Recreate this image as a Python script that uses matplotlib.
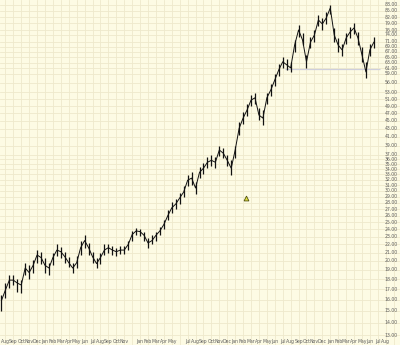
import numpy as np
import matplotlib
matplotlib.use('Agg')
import matplotlib.pyplot as plt

# Semi-monthly samples, first one mid-July of year 0
closes = [15.9, 16.9, 17.9, 17.9, 17.6, 17.4, 19.2, 18.7, 19.5, 20.7, 20.4, 19.5, 19.2, 20.4,
          21.3, 21.1, 20.5, 19.8, 19.2, 19.8, 21.6, 22.5, 21.6, 20.5, 19.7, 20.4,
          21.3, 21.6, 21.3, 21.1, 21.3, 21.3, 22.0, 23.3, 23.8, 23.7, 23.2, 22.2, 22.5, 23.2,
          23.8, 24.7, 26.0, 27.2, 27.8, 28.8, 29.8, 31.9, 32.3, 30.5, 33.4, 34.2, 35.4, 35.8,
          35.4, 38.0, 37.3, 35.8, 34.2, 38.0, 43.1, 45.7, 47.9, 50.7, 51.4, 46.5, 45.7, 51.4,
          53.8, 57.0, 60.4, 63.3, 62.2, 61.1, 69.7, 76.1, 71.8, 63.3, 70.9, 73.9, 80.6, 78.8,
          81.6, 86.4, 73.9, 69.7, 67.8, 72.6, 75.2, 77.0, 72.6, 65.9, 59.7, 67.8, 70.9]
highs = [16.4, 17.6, 18.4, 18.4, 18.0, 17.9, 19.8, 19.5, 20.1, 21.3, 21.1, 20.4, 19.8, 21.0,
         22.0, 21.7, 21.1, 20.5, 19.8, 20.6, 22.5, 23.2, 22.2, 21.1, 20.4, 21.0,
         22.0, 22.1, 21.8, 21.6, 21.8, 21.8, 22.4, 23.8, 24.2, 24.0, 23.7, 22.8, 23.2, 23.7,
         24.3, 25.4, 26.8, 28.1, 28.6, 29.6, 30.8, 32.8, 33.4, 31.5, 34.4, 35.2, 36.4, 36.9,
         36.4, 39.0, 38.4, 36.9, 35.8, 39.0, 44.7, 47.3, 49.6, 52.3, 52.9, 48.4, 47.9, 52.9,
         55.7, 59.0, 62.5, 65.1, 64.4, 63.3, 71.8, 78.3, 74.8, 65.9, 73.0, 76.1, 83.0, 81.6,
         84.4, 88.0, 77.0, 72.6, 70.1, 74.8, 77.4, 79.2, 75.2, 68.9, 63.3, 70.1, 73.0]
lows = [15.0, 16.1, 17.1, 17.4, 16.7, 16.6, 18.4, 18.0, 18.7, 19.8, 19.7, 18.7, 18.4, 19.5,
        20.6, 20.4, 19.8, 19.3, 18.7, 19.2, 20.7, 21.6, 20.7, 19.8, 19.2, 19.7,
        20.7, 21.0, 20.7, 20.6, 20.8, 20.8, 21.3, 22.5, 23.2, 23.1, 22.4, 21.6, 22.0, 22.4,
        23.2, 24.0, 25.3, 26.4, 27.0, 27.8, 29.0, 30.8, 31.0, 29.5, 32.3, 33.0, 34.2, 34.6,
        34.2, 36.7, 36.2, 34.6, 32.8, 36.2, 41.4, 44.1, 46.2, 49.0, 49.6, 45.2, 43.9, 49.6,
        52.0, 55.1, 58.3, 61.1, 60.4, 59.7, 67.0, 73.0, 69.7, 61.1, 68.5, 70.9, 77.9, 76.1,
        78.8, 83.5, 70.9, 67.0, 65.5, 70.1, 72.6, 74.3, 69.7, 63.3, 57.7, 65.5, 68.5]

support_price = 60.6
support_span = (35.3, 47.3)   # months
marker_month = 30.4
marker_price = 28.8

price_labels = [13, 14, 15, 16, 17, 18, 19, 20, 21, 22, 23, 24, 25, 26, 27, 28, 29, 30,
                31, 32, 33, 34, 35, 36, 37, 39, 41, 43, 45, 47, 49, 51, 53, 56, 59, 61,
                63, 65, 67, 69, 71, 74, 76, 79, 82, 85, 88]

month_names = ['Aug', 'Sep', 'Oct', 'Nov', 'Dec', 'Jan', 'Feb', 'Mar', 'Apr', 'May', 'Jun', 'Jul']
month_labels = [month_names[i % 12] for i in range(49)]
month_labels[16] = ''   # Dec of year 1 not shown
month_labels[22] = ''   # Jun of year 2 not shown

BG = '#fdfbe4'
GRID = '#eee9cc'
TXT = '#606060'

t = -0.5 + 0.5 * np.arange(len(closes))

fig = plt.figure(figsize=(4.0, 3.45), dpi=100)
fig.patch.set_facecolor(BG)
ax = fig.add_axes([0, 0, 1, 1])
ax.set_facecolor(BG)
ax.set_yscale('log')
ax.set_xlim(-0.68, 49.8)
ax.set_ylim(12.3, 90.5)

for m in range(50):
    ax.axvline(m, color=GRID, lw=0.6, zorder=0)
for p in price_labels:
    ax.axhline(p, color=GRID, lw=0.6, zorder=0)

ax.hlines(support_price, support_span[0], support_span[1], color='#cfcfdc', lw=0.9, zorder=1)
ax.vlines(t, lows, highs, color='#111111', lw=0.9, zorder=2)
ax.plot(t, closes, color='#111111', lw=0.7, zorder=3)
ax.plot(marker_month, marker_price, marker='^', ms=3.5, mfc='#e0e040', mec='#505010', mew=0.6, zorder=4)

for p in price_labels:
    ax.text(0.995, p, f'{p:.2f}', transform=ax.get_yaxis_transform(),
            ha='right', va='center', fontsize=3.3, color=TXT)
for m, lab in enumerate(month_labels):
    ax.text(m, 0.011, lab, transform=ax.get_xaxis_transform(),
            ha='center', va='center', fontsize=3.3, color=TXT)

ax.set_xticks([])
ax.set_yticks([])
ax.yaxis.set_minor_locator(matplotlib.ticker.NullLocator())
for s in ax.spines.values():
    s.set_visible(False)

fig.savefig('out.png', dpi=100, facecolor=BG)
